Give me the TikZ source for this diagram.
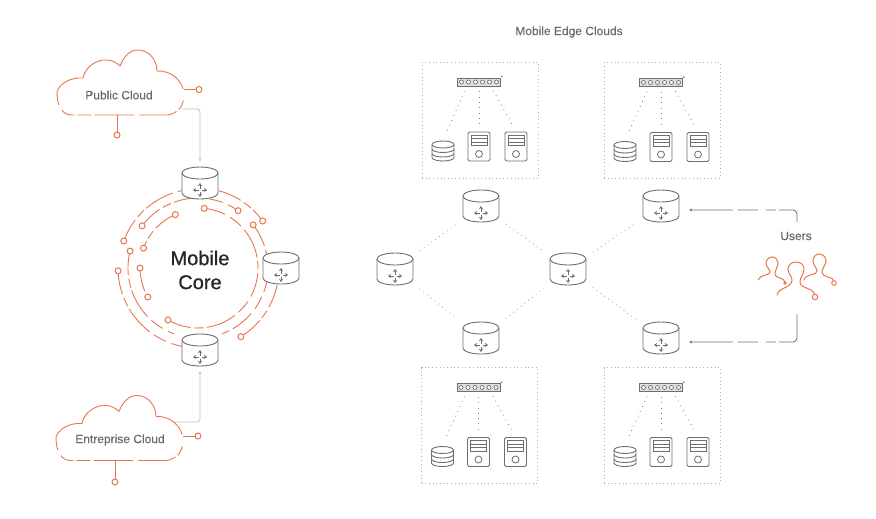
\documentclass[tikz,border=0pt]{standalone}
\usepackage{fontspec}
\setmainfont{Liberation Sans}
\usetikzlibrary{arrows.meta}
\definecolor{rust}{HTML}{E8764C}
\definecolor{steel}{HTML}{6E6E70}
\definecolor{txtgrey}{HTML}{6A6A6C}
\definecolor{pale}{HTML}{BDBDBD}
\tikzset{
    router/.style={minimum width=38pt, minimum height=34pt, inner sep=0pt, path picture={
            \begin{scope}[shift={(path picture bounding box.center)}, x=1pt, y=1pt, steel, line width=.9pt]
                \draw[fill=white] (-18,10) arc[start angle=180, end angle=0, x radius=18, y radius=6] -- (18,-10)
                    arc[start angle=0, end angle=-180, x radius=18, y radius=6] -- cycle;
                \draw (-18,10) arc[start angle=180, end angle=360, x radius=18, y radius=6];
                \draw[-{Stealth[length=3pt,width=4pt]}] (-1.5,-7) -- (-7,-7);
                \draw[-{Stealth[length=3pt,width=4pt]}] (1.5,-7) -- (7,-7);
                \draw[-{Stealth[length=3pt,width=4pt]}] (0,-5.5) -- (0,0);
                \draw[-{Stealth[length=3pt,width=4pt]}] (0,-8.5) -- (0,-14);
            \end{scope}}},
    edgebox/.style={draw=rust!60!gray!70, line width=.7pt, dash pattern=on .7pt off 3pt, minimum width=116pt, minimum height=116pt, inner sep=0pt},
    hop/.style={draw=gray!75, line width=.8pt, dash pattern=on .8pt off 4pt, shorten >=7pt, shorten <=7pt},
    lan/.style={draw=gray, line width=.8pt, dash pattern=on .8pt off 4.5pt, shorten >=8pt, shorten <=5pt},
    switchbox/.style={draw=steel, fill=gray!25, line width=.8pt, minimum width=43pt, minimum height=8pt, inner sep=0pt, path picture={
            \foreach \k in {-17.5,-10.5,-3.5,3.5,10.5,17.5}
                \draw[steel, line width=.7pt, fill=white] ([xshift=\k pt]path picture bounding box.center) circle (2pt);}},
    serverbox/.style={draw=steel, fill=white, line width=.9pt, rounded corners=1.5pt, minimum width=22pt, minimum height=29pt, inner sep=0pt, path picture={
            \begin{scope}[shift={(path picture bounding box.center)}, x=1pt, y=1pt, steel, line width=.8pt, sharp corners]
                \draw (-8,11.5) rectangle (8,8);
                \draw (-8,8) rectangle (8,4.5);
                \draw (-8,4.5) rectangle (8,1);
                \draw (0,-7.5) circle (3.5);
            \end{scope}}},
    dbstack/.style={minimum width=24pt, minimum height=22pt, inner sep=0pt, path picture={
            \begin{scope}[shift={(path picture bounding box.center)}, x=1pt, y=1pt, steel, line width=.9pt]
                \draw[fill=white] (-11,6.5) arc[start angle=180, end angle=0, x radius=11, y radius=3.5] -- (11,-6.5)
                    arc[start angle=0, end angle=-180, x radius=11, y radius=3.5] -- cycle;
                \draw (-11,6.5) arc[start angle=180, end angle=360, x radius=11, y radius=3.5];
                \draw (-11,2) arc[start angle=180, end angle=360, x radius=11, y radius=3.5];
                \draw (-11,-2.5) arc[start angle=180, end angle=360, x radius=11, y radius=3.5];
            \end{scope}}},
    tip/.style={circle, draw=rust, fill=white, line width=1pt, minimum size=6pt, inner sep=0pt},
    ringline/.style={draw=rust, line width=.9pt, dash pattern=on 24pt off 4pt on 9pt off 3pt on 31pt off 5pt on 14pt off 6pt},
    cloudline/.style={draw=rust, line width=.9pt, dash pattern=on 170pt off 12pt on 10pt off 3pt on 38pt off 5pt on 40pt off 3pt on 14pt off 3pt on 14pt off 6pt},
    stub/.style={draw=rust, line width=.9pt},
    feed/.style={draw=pale, line width=.8pt, rounded corners=3pt, -{Stealth[length=3pt,width=2.5pt]}},
    userlink/.style={draw=steel, line width=.8pt, rounded corners=4pt, {Stealth[length=3pt,width=3pt]}-, dash pattern=on 42pt off 5pt on 20pt off 8pt on 10pt off 3pt on 60pt},
    label/.style={text=txtgrey, font=\fontsize{12}{14}\selectfont\addfontfeature{FakeBold=.5}},
    person/.style={draw=rust, line width=1pt, line cap=round},
    cloudshape/.pic={
        \draw[cloudline] (57,92) .. controls (59,84) and (70,77) .. (83,78)
            .. controls (85,67) and (97,59) .. (107,60) .. controls (112,60) and (117,63) .. (120,66)
            .. controls (124,56) and (130,50) .. (138,50) .. controls (149,50) and (157,60) .. (157,71)
            .. controls (172,70) and (184,82) .. (184,95) .. controls (184,106) and (178,113) .. (168,115)
            -- (72,115) .. controls (62,115) and (57,106) .. (57,92);
    }
}
\begin{document}
\begin{tikzpicture}[x=1pt, y=-1pt]
        \useasboundingbox (0,0) rectangle (876,519);

        \pic at (0,0) {cloudshape};
        \pic at (-1,345.5) {cloudshape};
        \node[label] (pubcloud) at (119,95) {Public Cloud};
        \node[label] (entcloud) at (120,440) {Entreprise Cloud};
        \coordinate (pubra) at (184,89.5);
        \coordinate (pubba) at (117,115);
        \coordinate (entra) at (183,436);
        \coordinate (entba) at (115,461);
        \node[tip] (pubr) at (199,89.5) {};
        \node[tip] (pubb) at (117,135) {};
        \node[tip] (entr) at (198,436) {};
        \node[tip] (entb) at (115,482) {};
        \draw[stub] (pubra) -- (pubr);
        \draw[stub] (pubba) -- (pubb);
        \draw[stub] (entra) -- (entr);
        \draw[stub] (entba) -- (entb);

        \begin{scope}[shift={(198,268)}]
            \foreach \rr/\aa/\bb in {60/240/444, 58/113/160, 58/180/210, 70/143/55, 70/166/250, 70/38/-70, 80/75/36, 79/160/102, 80/182/259, 81/-12/-58}
                \draw[ringline] ({-\aa}:\rr) arc[start angle=-\aa, end angle=-\bb, radius=\rr];
            \foreach \rr/\aa [count=\i] in {60/240, 60/84, 58/113, 58/160, 58/180, 58/210, 70/143, 70/55, 70/166, 70/38, 80/36, 79/160, 80/182, 81/-58}
                \node[tip] (ring\i) at ({-\aa}:\rr) {};
        \end{scope}
        \node[text=black!85, align=center, font=\fontsize{20}{24}\selectfont\addfontfeature{FakeBold=.7}] (core) at (200,270) {Mobile\\Core};

        \node[router] (rtop) at (200,183) {};
        \node[router] (rside) at (281,268) {};
        \node[router] (rbot) at (200,350) {};
        \node[router] (ra) at (481,206) {};
        \node[router] (rl) at (395,269) {};
        \node[router] (rm) at (568,269) {};
        \node[router] (rc) at (481,338) {};
        \node[router] (rb) at (661,206) {};
        \node[router] (rd) at (661,338) {};

        \coordinate (pubout) at (182,109);
        \coordinate (entout) at (172,422);
        \draw[feed, shorten >=4pt] (pubout) -| (rtop.north);
        \draw[feed, shorten >=4pt] (entout) -| (rbot.south);

        \draw[hop] (rl) -- (ra);
        \draw[hop] (ra) -- (rm);
        \draw[hop] (rl) -- (rc);
        \draw[hop] (rc) -- (rm);
        \draw[hop] (rm) -- (rb);
        \draw[hop] (rm) -- (rd);

        \foreach \n/\x/\y in {a/480/120, b/662/120.5, c/479.5/425.5, d/662/425.5} {
            \node[edgebox] (box\n) at (\x,\y) {};
            \node[switchbox] (sw\n) at (\x-1,\y-38) {};
            \node[dbstack] (db\n) at (\x-37,\y+31) {};
            \node[serverbox] (srv\n) at (\x-1,\y+26.5) {};
            \node[serverbox] (srx\n) at (\x+36,\y+26.5) {};
            \draw[lan] ([xshift=-12pt]sw\n.south) -- (db\n.north);
            \draw[lan] (sw\n.south) -- (srv\n.north);
            \draw[lan] ([xshift=12pt]sw\n.south) -- (srx\n.north);
            \fill[steel] ([xshift=1pt,yshift=1pt]sw\n.north east) circle (.9pt);
        }

        \node[label] (users) at (796,236) {Users};
        \coordinate (rbin) at (689,210);
        \coordinate (rdin) at (689,342);
        \coordinate (uup) at (797,222);
        \coordinate (udown) at (797,314);
        \draw[userlink] (rbin) -| (uup);
        \draw[userlink] (rdin) -| (udown);

        \draw[person] (758,280) .. controls (760,274) and (770,276) .. (770,272) .. controls (770,269) and (766,267) .. (766,263)
            .. controls (766,260) and (769,257) .. (772,257) .. controls (776,257) and (778,260) .. (778,263)
            .. controls (778,267) and (775,270) .. (775,274) .. controls (775,279) and (784,277) .. (785,282);
        \draw[person] (777,295) .. controls (779,287) and (792,288) .. (792,280) .. controls (792,276) and (788,274) .. (788,269)
            .. controls (788,265) and (792,262) .. (796,262) .. controls (801,262) and (804,265) .. (804,269)
            .. controls (804,274) and (800,277) .. (800,282) .. controls (800,289) and (813,287) .. (815,295);
        \draw[person] (804,280) .. controls (806,273) and (817,276) .. (817,271) .. controls (817,268) and (813,265) .. (813,261)
            .. controls (813,257) and (816,254) .. (819,254) .. controls (823,254) and (826,257) .. (826,261)
            .. controls (826,265) and (822,268) .. (822,272) .. controls (822,278) and (833,276) .. (834,281);
        \node[tip, minimum size=5.5pt] (ptipm) at (815,297) {};
        \node[tip, minimum size=4.5pt] (ptipr) at (834,283) {};
        \node[tip, fill=rust, minimum size=2.5pt] (ptipl) at (785,283) {};

        \node[label, font=\fontsize{12}{14}\selectfont\addfontfeature{FakeBold=.3}] (edgetitle) at (569,32) {Mobile Edge Clouds};
    \end{tikzpicture}
\end{document}
